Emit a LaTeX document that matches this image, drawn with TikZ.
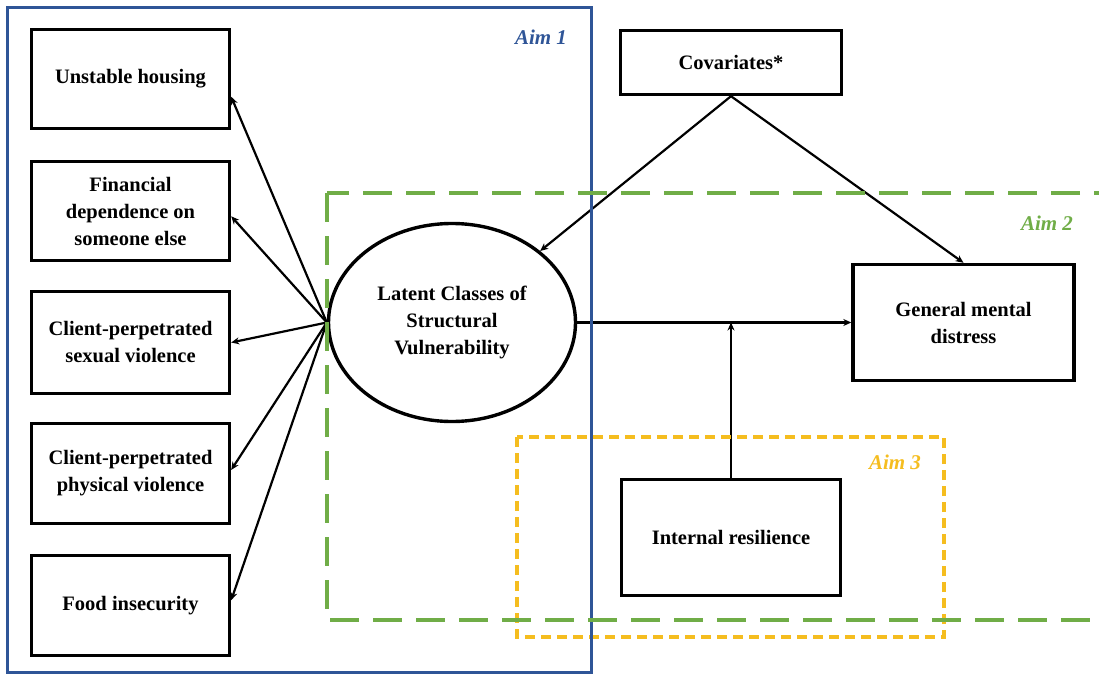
\documentclass[tikz,border=0pt]{standalone}
\usepackage{fontspec}
\setmainfont{Liberation Serif}
\usetikzlibrary{arrows.meta, shapes.geometric, calc}
\definecolor{aimblue}{HTML}{2F5597}
\definecolor{aimgreen}{HTML}{70AD47}
\definecolor{aimyellow}{HTML}{F5BD1F}
\tikzset{
  varbox/.style={draw, line width=3.4pt, align=center, inner sep=2pt,
    font=\bfseries\fontsize{20.5}{27}\selectfont},
  link/.style={->, line width=2.2pt},
  aimlabel/.style={font=\bfseries\itshape\fontsize{21}{25}\selectfont},
}

\begin{document}
\begin{tikzpicture}[>={Stealth[length=8pt,width=7pt]}, x=1pt, y=-1pt]
  \useasboundingbox (0,0) rectangle (1099,674);
  \clip (0,0) rectangle (1099,674);
  % indicators of structural vulnerability
  \node[varbox, minimum width=198pt, minimum height=99pt] (housing) at (130.5,79) {Unstable housing};
  \node[varbox, minimum width=198pt, minimum height=99pt] (finance) at (130.5,211) {Financial\\dependence on\\someone else};
  \node[varbox, minimum width=198pt, minimum height=102pt] (sexviol) at (130.5,342.5) {Client-perpetrated\\sexual violence};
  \node[varbox, minimum width=198pt, minimum height=100pt] (physviol) at (130.5,473.5) {Client-perpetrated\\physical violence};
  \node[varbox, minimum width=198pt, minimum height=100pt] (food) at (130.5,605.5) {Food insecurity};
  % latent variable
  \node[varbox, ellipse, minimum width=247pt, minimum height=198pt] (latent) at (452,322.5) {Latent Classes of\\Structural\\Vulnerability};
  % covariates, outcome, moderator
  \node[varbox, minimum width=221pt, minimum height=64pt] (covar) at (731,62.5) {Covariates*};
  \node[varbox, minimum width=221pt, minimum height=116pt] (distress) at (963.5,322.5) {General mental\\distress};
  \node[varbox, minimum width=219pt, minimum height=116pt] (resil) at (731,537.5) {Internal resilience};
  % measurement arrows
  \draw[link] (latent.west) -- (housing.-10);
  \draw[link] (latent.west) -- (finance.-3);
  \draw[link] (latent.west) -- (sexviol.east);
  \draw[link] (latent.west) -- (physviol.2);
  \draw[link] (latent.west) -- (food.3);
  % structural paths
  \draw[link] (covar.south) -- (latent);
  \draw[link] (covar.south) -- (distress.north);
  \draw[link] (latent.east) -- (distress.west);
  \coordinate (modpt) at (resil.north |- latent.east);
  \draw[link] (resil.north) -- (modpt);
  % aims
  \draw[aimyellow, line width=4pt, dash pattern=on 10pt off 6pt] (517,437) rectangle (944,637);
  \draw[aimblue, line width=3pt] (7.5,8) rectangle (591,672);
  \draw[aimgreen, line width=4.5pt, dash pattern=on 29pt off 14pt] (327,193) rectangle (1115,620);
  \node[aimlabel, text=aimblue] (aimone) at (541,37) {Aim 1};
  \node[aimlabel, text=aimgreen] (aimtwo) at (1047,223) {Aim 2};
  \node[aimlabel, text=aimyellow] (aimthree) at (895,462) {Aim 3};
\end{tikzpicture}
\end{document}
